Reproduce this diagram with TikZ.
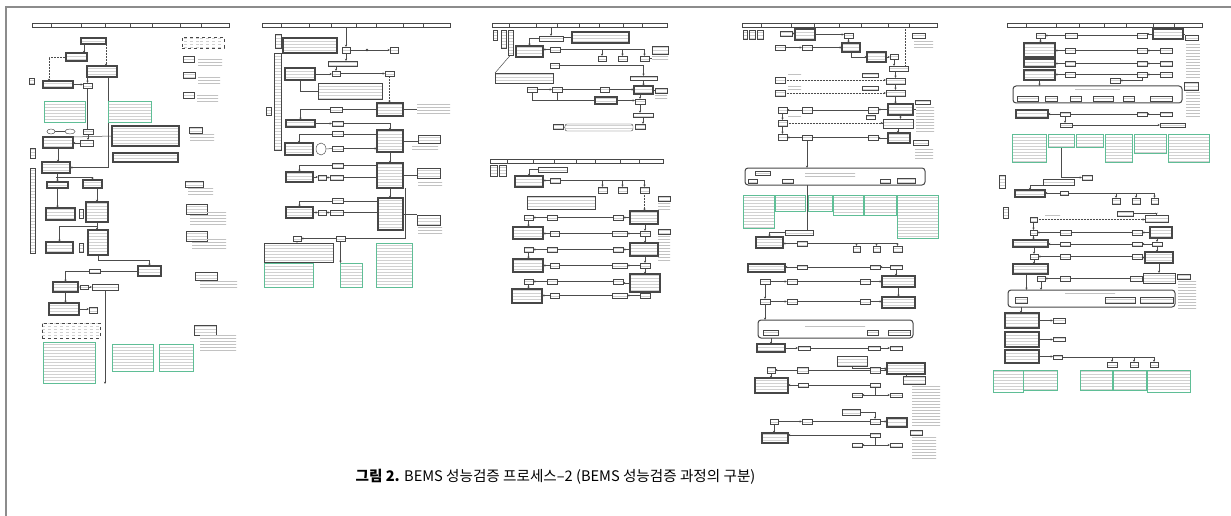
\documentclass[tikz,border=0pt]{standalone}
\usepackage{fontspec}
\newfontfamily\kr{Noto Sans CJK KR}
\usetikzlibrary{arrows.meta,shapes.geometric,patterns,backgrounds,calc}
\definecolor{grn}{RGB}{95,190,150}
\definecolor{frm}{RGB}{140,140,140}
\newcommand{\bx}[6]{\node[#1,minimum width={((#5)-(#3))*1pt},minimum height={((#6)-(#4))*1pt}] (#2) at ({((#3)+(#5))/2},{((#4)+(#6))/2}) {};}
\newcommand{\mkhdr}[4]{\node[base,fill=white,line width=.5pt,minimum width={((#4)-(#2))*1pt},minimum height=4.5pt,anchor=north west] (#1) at (#2,#3) {};
 \foreach \f in {.10,.25,.37,.50,.61,.75,.86} \draw[ln] ($(#1.north west)!\f!(#1.north east)$) -- ($(#1.south west)!\f!(#1.south east)$);}
\newcommand{\rowL}[4]{\draw[ar] (#2.west) -- (#2.west -| #1.east); \draw[ln] (#3.west) -- (#3.west -| #2.east); \draw[ar] (#4.west) -- (#4.west -| #3.east);}
\newcommand{\rowR}[4]{\draw[ar] (#1.east) -- (#1.east -| #2.west); \draw[ln] (#2.east) -- (#2.east -| #3.west); \draw[ar] (#3.east) -- (#3.east -| #4.west);}
\newcommand{\drops}[4]{\draw[ln] (#1.east) -- (#1.east -| #4.north); \foreach \n in {#2,#3,#4} \draw[ar] (\n.north |- #1.east) -- (\n.north);}
\begin{document}
\begin{tikzpicture}[x=1pt,y=-1pt,
 base/.style={inner sep=0pt,outer sep=0pt,draw=black!72,rectangle},
 txt/.style={preaction={fill=white},pattern=horizontal lines,pattern color=black!18},
 sb/.style={base,line width=.45pt,txt},
 tb/.style={base,line width=1.1pt,txt},
 nb/.style={base,line width=.6pt,txt},
 tl/.style={inner sep=0pt,outer sep=0pt,rectangle,pattern=horizontal lines,pattern color=black!24},
 gb/.style={base,draw=grn,line width=1pt,txt},
 rb/.style={base,line width=1pt,rounded corners=3pt,fill=white},
 el/.style={base,ellipse,line width=.45pt,fill=white},
 ln/.style={draw=black!70,line width=.5pt},
 ar/.style={ln,-{Stealth[length=2.4pt,width=2.2pt]}},
 dt/.style={ln,densely dotted,line width=.7pt}
]
\useasboundingbox (0,0) rectangle (1231,516);
\draw[frm,line width=1.8pt] (6,516) -- (6,7) -- (1231,7);

% ================= Panel 1 =================
\mkhdr{h1}{32}{23}{229}
\bx{nb,dashed}{p1leg}{182}{37}{224}{48}
\bx{sb}{p1n1}{183}{56}{194}{62} \bx{tl}{p1m1}{198}{58}{222}{67}
\bx{sb}{p1n2}{183}{72}{195}{78} \bx{tl}{p1m2}{198}{76}{220}{84}
\bx{sb}{p1n3}{183}{92}{194}{98} \bx{tl}{p1m3}{197}{95}{218}{104}
\bx{sb}{p1n4}{189}{127}{202}{133} \bx{tl}{p1m4}{190}{134}{214}{141}
\bx{sb}{p1n5}{185}{181}{203}{187} \bx{tl}{p1m5}{188}{188}{213}{196}
\bx{sb}{p1n6}{186}{204}{207}{214} \bx{tl}{p1m6}{190}{212}{226}{225}
\bx{sb}{p1n7}{186}{231}{207}{241} \bx{tl}{p1m7}{192}{238}{226}{248}
\bx{sb}{p1n8}{195}{272}{217}{280} \bx{tl}{p1m8}{200}{281}{237}{288}
\bx{sb}{p1n9}{194}{325}{216}{335} \bx{tl}{p1m9}{200}{334}{236}{352}

\bx{tb}{p1A}{81}{38}{106}{44}
\bx{tb}{p1B}{66}{53}{87}{61}
\bx{tb}{p1C}{87}{66}{117}{77}
\bx{sb}{p1L}{29}{78}{34}{84}
\bx{tb}{p1D}{43}{81}{73}{88}
\bx{sb}{p1E}{83}{83}{92}{88}
\bx{gb}{p1G1}{44}{102}{85}{123}
\bx{gb}{p1G2}{108}{102}{151}{123}
\bx{el}{p1O1}{47}{129}{55}{134}
\bx{el}{p1O2}{65}{129}{75}{134}
\bx{sb}{p1O3}{83}{129}{93}{134}
\bx{tb}{p1T}{112}{126}{179}{146}
\bx{tb}{p1U}{113}{153}{178}{162}
\bx{tb}{p1F}{43}{137}{73}{148}
\bx{sb}{p1Fs}{80}{140}{93}{146}
\bx{sb}{p1L2}{30}{148}{35}{158}
\bx{sb}{p1Col}{30}{168}{35}{253}
\bx{tb}{p1H}{42}{162}{70}{173}
\bx{tb}{p1I}{47}{182}{68}{188}
\bx{tb}{p1J}{83}{180}{102}{188}
\bx{tb}{p1K}{46}{208}{75}{220}
\bx{sb}{p1Kb}{79}{209}{83}{218}
\bx{tb}{p1Lm}{86}{202}{108}{222}
\bx{tb}{p1M}{46}{242}{73}{253}
\bx{sb}{p1Mb}{79}{243}{83}{252}
\bx{tb}{p1N}{88}{230}{108}{255}
\bx{tb}{p1P}{138}{266}{161}{276}
\bx{sb}{p1Pa}{89}{269}{100}{273}
\bx{tb}{p1Q}{53}{282}{78}{292}
\bx{sb}{p1R}{80}{285}{88}{289}
\bx{sb}{p1S}{92}{284}{118}{290}
\bx{tb}{p1V}{49}{303}{79}{315}
\bx{sb}{p1W}{89}{307}{97}{313}
\bx{nb,dashed}{p1X}{42}{323}{100}{338}
\bx{gb}{p1Y1}{43}{342}{95}{383}
\bx{gb}{p1Y2}{112}{344}{153}{371}
\bx{gb}{p1Y3}{159}{344}{193}{371}
\coordinate (p1end) at (105,384);

% ================= Panel 2 =================
\mkhdr{h2}{262}{23}{450}
\bx{sb}{p2L1}{275}{34}{281}{48}
\bx{sb}{p2Col}{274}{53}{281}{150}
\bx{sb}{p2Br}{266}{107}{271}{115}
\bx{tb}{p2A}{283}{38}{337}{53}
\bx{sb}{p2B}{342}{47}{350}{53}
\bx{sb}{p2D}{390}{47}{398}{53}
\coordinate (p2dot) at (367,50);
\coordinate (p2top) at (346,27.5);
\bx{sb}{p2C}{328}{61}{357}{66}
\bx{tb}{p2E}{285}{68}{315}{80}
\bx{sb}{p2F}{332}{71}{340}{76}
\bx{sb}{p2G}{385}{71}{394}{76}
\bx{nb}{p2T}{318}{83}{382}{99}
\bx{tb}{p2H}{377}{103}{403}{116}
\bx{tl}{p2Ht}{417}{102}{450}{115}
\bx{sb}{p2I}{330}{107}{342}{112}
\bx{tb}{p2J}{286}{120}{315}{127}
\bx{sb}{p2K}{332}{121}{343}{126}
\bx{tb}{p2Lb}{377}{130}{403}{152}
\bx{sb}{p2O}{332}{131.5}{343}{136.5}
\bx{tb}{p2M}{285}{143}{313}{155}
\bx{el}{p2Mc}{316}{143}{326}{155}
\bx{sb}{p2N}{332}{146}{343}{151}
\bx{sb}{p2Nt}{418}{135}{440}{143} \bx{tl}{p2Ntt}{412}{144}{438}{151}
\bx{tb}{p2P}{377}{163}{403}{188}
\bx{sb}{p2Pa}{332}{163}{343}{168}
\bx{tb}{p2Q}{286}{172}{313}{182}
\bx{sb}{p2Qa}{318}{175}{326}{180}
\bx{sb}{p2Qb}{330}{175}{343}{180}
\bx{sb}{p2Pt}{417}{168}{440}{178} \bx{tl}{p2Ptt}{418}{180}{442}{187}
\bx{tb}{p2Rr}{378}{198}{403}{230}
\bx{sb}{p2Ra}{332}{198}{343}{203}
\bx{tb}{p2S}{286}{207}{313}{218}
\bx{sb}{p2Sa}{318}{210}{326}{215}
\bx{sb}{p2Sb}{330}{210}{343}{215}
\bx{sb}{p2Rt}{417}{215}{440}{225} \bx{tl}{p2Rtt}{418}{226}{442}{233}
\bx{sb}{p2U1}{293}{236}{301}{241}
\bx{sb}{p2U2}{336}{236}{345}{241}
\bx{nb}{p2V}{264}{243}{333}{262}
\bx{gb}{p2G1}{264}{263}{313}{287}
\bx{gb}{p2G2}{340}{263}{362}{287}
\bx{gb}{p2G3}{376}{243}{412}{287}

% ================= Panel 3 (top) =================
\mkhdr{h3}{492}{23}{667}
\bx{sb}{p3a1}{493}{30}{497}{40}
\bx{sb}{p3a2}{501}{30}{506}{48}
\bx{sb}{p3a3}{508}{30}{513}{55}
\bx{sb}{p3B}{539}{36}{563}{41}
\bx{tb}{p3T}{572}{32}{629}{43}
\bx{tb}{p3C}{516}{46}{543}{57}
\bx{sb}{p3D}{550}{47}{560}{52}
\bx{sb}{p3E1}{598}{56}{606}{61}
\bx{sb}{p3E2}{618}{56}{627}{61}
\bx{sb}{p3E3}{640}{56}{649}{61}
\bx{sb}{p3F}{652}{46}{668}{54} \bx{tl}{p3Ft}{652}{56}{668}{62}
\bx{sb}{p3G}{550}{63}{559}{68}
\bx{nb}{p3H}{495}{73}{553}{83}
\bx{sb}{p3I}{630}{76}{657}{80}
\bx{sb}{p3J1}{527}{87}{537}{92}
\bx{sb}{p3J2}{552}{87}{562}{92}
\bx{sb}{p3J3}{600}{87}{609}{92}
\bx{tb}{p3K}{634}{86}{653}{94}
\bx{sb}{p3Kt}{655}{88}{667}{93} \bx{tl}{p3Ktt}{655}{94}{667}{99}
\bx{tb}{p3L}{595}{97}{617}{104}
\bx{sb}{p3M}{635}{99}{645}{104}
\bx{sb}{p3N}{633}{113}{653}{117}
\bx{sb}{p3P1}{553}{124}{563}{129}
\bx{sb,rounded corners=2pt}{p3P2}{565}{124}{633}{131}
\bx{sb}{p3P3}{635}{124}{645}{129}

% ================= Panel 3 (bottom) =================
\mkhdr{h4}{490}{159}{663}
\bx{sb}{p4a1}{490}{165}{497}{176}
\bx{sb}{p4a2}{499}{165}{506}{176}
\bx{sb}{p4B}{538}{167}{567}{172}
\bx{tb}{p4C}{515}{176}{543}{187}
\bx{sb}{p4D}{550}{178}{560}{183}
\bx{sb}{p4E1}{598}{187}{607}{193}
\bx{sb}{p4E2}{618}{187}{627}{193}
\bx{sb}{p4E3}{640}{187}{649}{193}
\bx{nb}{p4T}{527}{196}{595}{209}
\bx{sb}{p4n1}{658}{196}{670}{201} \bx{tl}{p4m1}{658}{202}{670}{210}
\bx{sb}{p4n2}{658}{229}{670}{234} \bx{tl}{p4m2}{658}{235}{670}{262}
\bx{sb}{p4r1a}{524}{215}{533}{220} \bx{sb}{p4r1b}{547}{215}{557}{220} \bx{sb}{p4r1c}{613}{215}{623}{220} \bx{tb}{p4r1d}{630}{211}{658}{224}
\bx{tb}{p4r2a}{513}{227}{543}{239} \bx{sb}{p4r2b}{550}{231}{559}{236} \bx{sb}{p4r2c}{612}{231}{627}{236} \bx{sb}{p4r2d}{640}{231}{650}{236}
\bx{sb}{p4r3a}{524}{247}{533}{252} \bx{sb}{p4r3b}{547}{247}{557}{252} \bx{sb}{p4r3c}{613}{247}{623}{252} \bx{tb}{p4r3d}{630}{243}{658}{256}
\bx{tb}{p4r4a}{513}{259}{543}{272} \bx{sb}{p4r4b}{550}{263}{559}{268} \bx{sb}{p4r4c}{612}{263}{627}{268} \bx{sb}{p4r4d}{640}{263}{650}{268}
\bx{sb}{p4r5a}{524}{279}{533}{284} \bx{sb}{p4r5b}{547}{279}{557}{284} \bx{sb}{p4r5c}{613}{279}{623}{284} \bx{tb}{p4r5d}{630}{274}{660}{292}
\bx{tb}{p4r6a}{512}{289}{542}{303} \bx{sb}{p4r6b}{550}{293}{559}{298} \bx{sb}{p4r6c}{612}{293}{627}{298} \bx{sb}{p4r6d}{640}{293}{650}{298}

% ================= Panel 4 =================
\mkhdr{h5}{742}{23}{937}
\bx{sb}{p5a1}{743}{30}{747}{39} \bx{sb}{p5a2}{749}{30}{755}{39} \bx{sb}{p5a3}{757}{30}{763}{39}
\bx{sb}{p5B}{780}{31}{792}{36}
\bx{tb}{p5C}{795}{29}{815}{40}
\bx{sb}{p5D}{844}{33}{853}{38}
\bx{sb}{p5E1}{775}{45}{785}{50} \bx{sb}{p5E2}{802}{45}{812}{50}
\bx{tb}{p5F}{842}{43}{860}{52}
\bx{tb}{p5G}{867}{52}{886}{62}
\bx{sb}{p5H}{890}{54}{898}{59}
\bx{sb}{p5Rn}{912}{33}{925}{38} \bx{tl}{p5Rt}{914}{39}{933}{50}
\coordinate (p5dv) at (905,27.5);
\bx{sb}{p5I}{889}{66}{908}{71}
\bx{tl}{p5j0}{788}{73}{801}{77} \bx{sb}{p5J3}{862}{73}{878}{77}
\bx{sb}{p5J1}{775}{77}{785}{83} \bx{sb}{p5J2}{886}{78}{905}{84}
\bx{tl}{p5k0}{788}{86}{801}{90} \bx{sb}{p5K3}{862}{86}{878}{90}
\bx{sb}{p5K1}{775}{90}{785}{96} \bx{sb}{p5K2}{886}{90}{905}{96}
\bx{sb}{p5L1}{778}{107}{787}{113} \bx{sb}{p5L2}{802}{107}{812}{113} \bx{sb}{p5L3}{868}{107}{878}{113} \bx{tb}{p5L4}{888}{104}{913}{115}
\bx{sb}{p5Ln}{915}{100}{930}{104} \bx{tl}{p5Lt}{916}{106}{934}{132}
\bx{tl}{p5m0}{788}{116}{801}{119} \bx{sb}{p5M3}{866}{115}{875}{119}
\bx{sb}{p5M1}{778}{120}{787}{126} \bx{sb}{p5M2}{883}{119}{913}{128}
\bx{sb}{p5N1}{778}{134}{787}{140} \bx{sb}{p5N2}{802}{135}{812}{140} \bx{sb}{p5N3}{868}{135}{878}{140} \bx{tb}{p5N4}{888}{133}{910}{143}
\bx{sb}{p5Nn}{913}{140}{928}{145} \bx{tl}{p5Nt}{915}{147}{933}{160}
\bx{rb}{p5BR}{745}{168}{925}{185}
\bx{tl}{p5BRt}{805}{173}{855}{177}
\bx{sb}{p5br1}{755}{171}{770}{175} \bx{sb}{p5br2}{748}{179}{757}{183} \bx{sb}{p5br3}{782}{179}{793}{183} \bx{sb}{p5br4}{880}{179}{890}{183} \bx{sb}{p5br5}{897}{178}{915}{183}
\bx{gb}{p5g1}{743}{195}{774}{228} \bx{gb}{p5g2}{775}{195}{805}{211} \bx{gb}{p5g3}{808}{195}{832}{211}
\bx{gb}{p5g4}{833}{195}{863}{215} \bx{gb}{p5g5}{864}{195}{896}{215} \bx{gb}{p5g6}{897}{195}{938}{238}
\bx{sb}{p5P}{785}{230}{813}{235}
\bx{tb}{p5Q}{756}{237}{783}{248}
\bx{sb}{p5R}{797}{241}{807}{246}
\bx{sb}{p5S1}{853}{246}{860}{252} \bx{sb}{p5S2}{873}{246}{880}{252} \bx{sb}{p5S3}{893}{246}{902}{252}
\bx{tb}{p5T}{748}{264}{785}{272} \bx{sb}{p5T2}{797}{265}{807}{269} \bx{sb}{p5T3}{870}{265}{880}{269} \bx{sb}{p5T4}{890}{265}{902}{269}
\bx{sb}{p5U1}{760}{279}{770}{284} \bx{sb}{p5U2}{787}{279}{797}{284} \bx{sb}{p5U3}{860}{279}{870}{284} \bx{tb}{p5U4}{882}{276}{915}{287}
\bx{sb}{p5V1}{760}{299}{770}{304} \bx{sb}{p5V2}{787}{299}{797}{304} \bx{sb}{p5V3}{860}{299}{870}{304} \bx{tb}{p5V4}{882}{297}{915}{308}
\bx{rb}{p5BR2}{758}{320}{913}{338}
\bx{tl}{p5BR2t}{805}{324}{865}{327}
\bx{sb}{p5bq1}{763}{330}{778}{335} \bx{sb}{p5bq2}{867}{330}{878}{335} \bx{sb}{p5bq3}{888}{330}{910}{335}
\bx{tb}{p5W}{757}{344}{785}{352} \bx{sb}{p5W2}{798}{346}{810}{350} \bx{sb}{p5W3}{868}{346}{880}{350} \bx{sb}{p5W4}{890}{346}{902}{350}
\bx{nb}{p5X}{837}{356}{867}{366} \bx{tb}{p5X2}{887}{363}{925}{374}
\bx{sb}{p5Y1}{767}{367}{775}{373} \bx{sb}{p5Y2}{797}{367}{808}{373} \bx{sb}{p5Y3}{870}{367}{880}{373}
\bx{tb}{p5Z}{755}{378}{788}{393} \bx{sb}{p5Z2}{798}{383}{808}{387} \bx{sb}{p5Z3}{870}{383}{880}{387} \bx{sb}{p5Z4}{852}{393}{862}{397} \bx{sb}{p5Z5}{890}{393}{902}{397}
\bx{sb}{p5Xn1}{903}{376}{925}{384} \bx{tl}{p5Xm1}{912}{386}{940}{425}
\bx{sb}{p5Xn2}{910}{430}{922}{435} \bx{tl}{p5Xm2}{912}{437}{936}{458}
\bx{sb}{p5Xt}{842}{409}{860}{415}
\bx{sb}{p5AA1}{770}{419}{778}{424} \bx{sb}{p5AA2}{802}{419}{812}{424} \bx{sb}{p5AA3}{870}{419}{880}{424} \bx{tb}{p5AA4}{887}{418}{907}{427}
\bx{tb}{p5AB}{762}{433}{788}{443} \bx{sb}{p5AB3}{870}{433}{880}{437} \bx{sb}{p5AB4}{852}{443}{862}{447} \bx{sb}{p5AB5}{890}{443}{902}{447}

% ================= Panel 5 =================
\mkhdr{h6}{1007}{23}{1202}
\bx{sb}{q1a}{1036}{33}{1045}{38} \bx{sb}{q1b}{1065}{33}{1077}{38} \bx{sb}{q1c}{1137}{33}{1147}{38} \bx{tb}{q1d}{1153}{29}{1183}{39}
\bx{sb}{q1n}{1185}{35}{1198}{40} \bx{tl}{q1t}{1186}{42}{1200}{80}
\bx{tb}{q2a}{1024}{43}{1055}{57} \bx{sb}{q2b}{1065}{48}{1075}{53} \bx{sb}{q2c}{1137}{48}{1147}{53} \bx{sb}{q2d}{1160}{48}{1172}{53}
\bx{tb}{q3a}{1024}{59}{1055}{67} \bx{sb}{q3b}{1065}{61}{1075}{66} \bx{sb}{q3c}{1137}{61}{1147}{66} \bx{sb}{q3d}{1160}{61}{1172}{66}
\bx{tb}{q4a}{1024}{70}{1055}{80} \bx{sb}{q4b}{1065}{72}{1075}{77} \bx{sb}{q4c}{1137}{72}{1147}{77} \bx{sb}{q4d}{1160}{72}{1172}{77}
\bx{sb}{q4e}{1110}{78}{1120}{83}
\bx{rb}{q5}{1013}{86}{1182}{103}
\bx{tl}{q5t}{1075}{88}{1120}{92}
\bx{sb}{q5i1}{1017}{96}{1038}{101} \bx{sb}{q5i2}{1045}{96}{1057}{101} \bx{sb}{q5i3}{1070}{96}{1081}{101} \bx{sb}{q5i4}{1093}{96}{1113}{101} \bx{sb}{q5i5}{1123}{96}{1134}{101} \bx{sb}{q5i6}{1150}{96}{1172}{101}
\bx{sb}{q5n}{1184}{82}{1198}{90} \bx{tl}{q5m}{1186}{92}{1200}{117}
\bx{tb}{q6a}{1016}{110}{1048}{118} \bx{sb}{q6b}{1060}{112}{1070}{116} \bx{sb}{q6c}{1137}{112}{1147}{116} \bx{sb}{q6d}{1160}{112}{1172}{116}
\bx{sb}{q7a}{1060}{123}{1072}{127} \bx{sb}{q7b}{1160}{123}{1185}{127}
\bx{gb}{qg1}{1012}{135}{1046}{162} \bx{gb}{qg2}{1048}{135}{1074}{147} \bx{gb}{qg3}{1076}{135}{1103}{147}
\bx{gb}{qg4}{1105}{135}{1132}{162} \bx{gb}{qg5}{1134}{135}{1166}{153} \bx{gb}{qg6}{1168}{135}{1209}{162}
\bx{sb}{q8}{1082}{175}{1092}{180}
\bx{sb}{q8l}{999}{175}{1005}{188} \bx{sb}{q8m}{1043}{179}{1074}{185}
\bx{tb}{q9}{1015}{190}{1045}{197} \bx{sb}{q9b}{1060}{191}{1068}{195}
\bx{sb}{q9c1}{1112}{198}{1120}{204} \bx{sb}{q9c2}{1132}{198}{1140}{204} \bx{sb}{q9c3}{1151}{198}{1158}{204}
\bx{sb}{q9l}{1003}{207}{1008}{218}
\bx{sb}{q10a}{1030}{217}{1037}{222} \bx{sb}{q10lab}{1117}{211}{1133}{216} \bx{sb}{q10b}{1145}{215}{1168}{222}
\bx{tl}{q10t}{1045}{213}{1060}{216}
\bx{sb}{q11a}{1030}{230}{1037}{235} \bx{sb}{q11b}{1060}{230}{1071}{235} \bx{sb}{q11c}{1132}{230}{1142}{235} \bx{tb}{q11d}{1150}{227}{1172}{238}
\bx{tb}{q12a}{1013}{240}{1048}{247} \bx{sb}{q12b}{1060}{242}{1070}{246} \bx{sb}{q12c}{1132}{242}{1142}{246} \bx{sb}{q12d}{1152}{242}{1162}{246}
\bx{sb}{q13a}{1030}{254}{1038}{259} \bx{sb}{q13b}{1060}{254}{1070}{259} \bx{sb}{q13c}{1132}{254}{1142}{259} \bx{tb}{q13d}{1145}{252}{1173}{263}
\bx{tb}{q14}{1013}{264}{1048}{274}
\bx{sb}{q15a}{1037}{276}{1045}{281} \bx{sb}{q15b}{1060}{276}{1070}{281} \bx{sb}{q15c}{1130}{276}{1142}{281} \bx{sb}{q15d}{1143}{273}{1175}{283}
\bx{sb}{q15n}{1177}{274}{1190}{279} \bx{tl}{q15m}{1178}{281}{1196}{308}
\bx{rb}{q16}{1008}{290}{1175}{307}
\bx{tl}{q16t}{1065}{292}{1115}{295}
\bx{sb}{q16i1}{1015}{297}{1027}{303} \bx{sb}{q16i2}{1105}{297}{1135}{303} \bx{sb}{q16i3}{1140}{297}{1173}{303}
\bx{tb}{q17}{1005}{313}{1039}{328} \bx{sb}{q17b}{1053}{318}{1065}{323}
\bx{tb}{q18}{1005}{332}{1039}{347} \bx{sb}{q18b}{1053}{337}{1065}{341}
\bx{tb}{q19}{1005}{350}{1039}{363} \bx{sb}{q19b}{1053}{355}{1062}{359}
\bx{sb}{q19c1}{1107}{362}{1117}{367} \bx{sb}{q19c2}{1130}{362}{1138}{367} \bx{sb}{q19c3}{1150}{362}{1158}{367}
\bx{gb}{qh1}{993}{370}{1023}{392} \bx{gb}{qh2}{1023}{370}{1057}{390}
\bx{gb}{qh3}{1080}{370}{1112}{390} \bx{gb}{qh4}{1113}{370}{1146}{390} \bx{gb}{qh5}{1147}{370}{1190}{392}

% caption
\node[inner sep=0pt,font=\kr\fontsize{14.6}{17}\selectfont] (cap) at (555.5,477) {\textbf{그림 2.} BEMS 성능검증 프로세스–2 (BEMS 성능검증 과정의 구분)};

% ================= connectors =================
\begin{scope}[on background layer]
% panel 1
\draw[ar] ([xshift=-3pt]p1B.north east |- p1A.south) -- ([xshift=-3pt]p1B.north east);
\draw[dt,-{Stealth[length=2.4pt,width=2.2pt]}] (p1A.south east) -- (p1A.south east |- p1C.north);
\draw[dt,-{Stealth[length=2.4pt,width=2.2pt]}] (p1B.west) -| ([xshift=-9pt]p1D.north);
\draw[ar] (p1D.east) -- (p1D.east -| p1E.west);
\draw[ar] (p1C.south -| p1E.north) -- (p1E.north);
\draw[ln] (p1E.south) -- (p1E.south |- p1O3.north);
\draw[ar] (p1C.south -| p1G2.west) |- (p1H.east);
\draw[ar] (p1O3.south) -- (p1O3.south |- p1Fs.north);
\draw[ar] (p1Fs.west) -- (p1Fs.west -| p1F.east);
\draw[ln] (p1T.west) -- (p1F.north east);
\draw[ln] (p1O1.east) -- (p1O2.west);
\draw[ar] (p1F.south) -- (p1F.south |- p1H.north);
\draw[ar] (p1I.north |- p1H.south) -- (p1I.north);
\draw[ar] ($(p1H.south)+(0,4)$) -| (p1J.north);
\draw[ar] (p1I.south) -- (p1I.south |- p1K.north);
\draw[ar] (p1J.south -| p1Lm.north) -- (p1Lm.north);
\draw[ar] (p1Lm.south) -- ++(0,4) -| (p1M.north);
\draw[ar] (p1Lm.south) -- (p1Lm.south |- p1N.north);
\draw[ar] (p1N.south) -- ++(0,5) -| (p1P.north);
\draw[ar] (p1P.west) -| (p1Q.north);
\draw[ar] (p1Q.east) -- (p1Q.east -| p1R.west);
\draw[ar] (p1R.east) -- (p1R.east -| p1S.west);
\draw[ar] (p1S.south) -- (p1S.south |- p1end);
\draw[ar] (p1Q.south) -- (p1Q.south |- p1V.north);
\draw[ar] (p1V.east) -- (p1V.east -| p1W.west);
% panel 2
\draw[ar] (p2top) -- (p2B.north);
\draw[ar] (p2B.south) -- (p2B.south |- p2C.north);
\draw[ar] (p2F.north |- p2C.south) -- (p2F.north);
\draw[ln] (p2B.east) -- (p2B.east -| p2dot);
\draw[ar] (p2dot) -- (p2dot -| p2D.west);
\fill[black!75] (p2dot) circle (1.4pt);
\draw[ar] (p2E.east) -- (p2E.east -| p2F.west);
\draw[ar] (p2F.east) -- (p2F.east -| p2G.west);
\draw[dt,-{Stealth[length=2.4pt,width=2.2pt]}] (p2G.south) -- (p2G.south |- p2H.north);
\draw[ln] (p2T.west) -| (p2E.south);
\fill[black!75] (p2E.south) circle (1.2pt);
\draw[ln] (p2H.east) -- (p2H.east -| p2Ht.west);
\draw[ar] (p2H.west) -| (p2J.north);
\draw[ar] (p2J.east) -- (p2J.east -| p2K.west);
\draw[ar] (p2K.east) -| (p2Lb.north);
\draw[ar] ([yshift=7pt]p2Lb.west) -| (p2M.north);
\draw[ln] (p2Mc.east) -- (p2N.west);
\draw[ar] (p2N.east) -- (p2N.east -| p2Lb.west);
\draw[ln] (p2Lb.east) -- (p2Lb.east -| p2Nt.west);
\draw[ar] (p2Lb.south) -- (p2Lb.south |- p2P.north);
\draw[ar] ([yshift=10pt]p2P.west) -| (p2Q.north);
\draw[ar] (p2Q.east) -- (p2Q.east -| p2Qa.west);
\draw[ar] (p2Qa.east) -- (p2Qa.east -| p2Qb.west);
\draw[ln] (p2Qb.east) -- (p2Qb.east -| p2P.west);
\draw[ln] (p2P.east) -- (p2P.east -| p2Pt.west);
\draw[ar] (p2P.south) -- (p2P.south |- p2Rr.north);
\draw[ar] ([yshift=13pt]p2Rr.west) -| (p2S.north);
\draw[ar] (p2S.east) -- (p2S.east -| p2Sa.west);
\draw[ar] (p2Sa.east) -- (p2Sa.east -| p2Sb.west);
\draw[ln] (p2Sb.east) -- (p2Sb.east -| p2Rr.west);
\draw[ln] (p2Rr.east) -- (p2Rr.east -| p2Rt.west);
\draw[ln] ([xshift=2pt]p2P.south east) |- (p2U2.east);
\draw[ar] (p2U2.west) -- (p2U2.west -| p2U1.east);
\draw[ar] (p2U1.south) -- (p2U1.south |- p2V.north);
\draw[ar] (p2U2.south) -- (p2U2.south |- p2G2.north);
% panel 3 top
\draw[ar] (p3B.north |- h3.south) -- (p3B.north);
\draw[ar] (p3B.west) -| (p3C.north);
\draw[ln] (p3a3.south) -- (p3H.north west);
\draw[ln] (p3T.west) -- (p3T.west -| p3B.east);
\draw[ar] (p3D.west) -- (p3D.west -| p3C.east);
\drops{p3D}{p3E1}{p3E2}{p3E3}
\draw[ln] (p3E3.east) -- (p3E3.east -| p3F.west);
\draw[ar] (p3G.east) -| (p3I.north);
\draw[ar] (p3I.south) -- (p3I.south |- p3K.north);
\rowR{p3J1}{p3J2}{p3J3}{p3K}
\draw[ln] (p3K.east) -- (p3K.east -| p3Kt.west);
\draw[ln] (p3J1.south) |- (p3L.west);
\draw[ln] (p3J2.south) -- (p3J2.south |- p3L.west);
\draw[ar] (p3L.east) -- (p3L.east -| p3M.west);
\draw[ar] (p3K.south -| p3M.north) -- (p3M.north);
\draw[ar] (p3M.south) -- (p3M.south |- p3N.north);
\draw[ar] (p3N.south) -- (p3N.south |- p3P3.north);
\draw[ln] (p3P1.east) -- (p3P2.west);
% panel 3 bottom
\draw[ar] (p4B.west) -| (p4C.north);
\draw[ar] (p4D.west) -- (p4D.west -| p4C.east);
\drops{p4D}{p4E1}{p4E2}{p4E3}
\draw[dt,-{Stealth[length=2.4pt,width=2.2pt]}] (p4E3.south) -- (p4E3.south |- p4r1d.north);
\rowL{p4r1a}{p4r1b}{p4r1c}{p4r1d}
\rowL{p4r2a}{p4r2b}{p4r2c}{p4r2d}
\rowL{p4r3a}{p4r3b}{p4r3c}{p4r3d}
\rowL{p4r4a}{p4r4b}{p4r4c}{p4r4d}
\rowL{p4r5a}{p4r5b}{p4r5c}{p4r5d}
\rowL{p4r6a}{p4r6b}{p4r6c}{p4r6d}
\draw[ar] (p4r1a.south) -- (p4r1a.south |- p4r2a.north);
\draw[ar] (p4r3a.south) -- (p4r3a.south |- p4r4a.north);
\draw[ar] (p4r5a.south) -- (p4r5a.south |- p4r6a.north);
\draw[ar] (p4r2d.north |- p4r1d.south) -- (p4r2d.north);
\draw[ar] (p4r2d.south) -- (p4r2d.south |- p4r3d.north);
\draw[ar] (p4r4d.north |- p4r3d.south) -- (p4r4d.north);
\draw[ar] (p4r4d.south) -- (p4r4d.south |- p4r5d.north);
\draw[ar] (p4r6d.north |- p4r5d.south) -- (p4r6d.north);
\draw[ln] (p4r1d.east) -- (p4r1d.east -| p4n1.west);
% panel 4
\draw[ar] (p5B.east) -- (p5B.east -| p5C.west);
\draw[ar] (p5C.east) -- (p5C.east -| p5D.west);
\draw[ar] (p5D.south) -- (p5D.south |- p5F.north);
\draw[ar] (p5E1.east) -- (p5E1.east -| p5E2.west);
\draw[ar] (p5E2.east) -- (p5E2.east -| p5F.west);
\draw[ar] (p5F.south) |- (p5G.west);
\draw[ar] (p5G.east) -- (p5G.east -| p5H.west);
\draw[dt] (p5dv) -- (p5dv |- p5I.north);
\draw[ar] (p5H.south) -- (p5H.south |- p5I.north);
\draw[ar] (p5J2.north |- p5I.south) -- (p5J2.north);
\draw[dt,-{Stealth[length=2.4pt,width=2.2pt]}] (p5J1.east) -- (p5J1.east -| p5J2.west);
\draw[dt,-{Stealth[length=2.4pt,width=2.2pt]}] (p5K1.east) -- (p5K1.east -| p5K2.west);
\draw[ar] (p5J2.south) -- (p5J2.south |- p5K2.north);
\draw[ar] (p5K2.south) -- (p5K2.south |- p5L4.north);
\rowL{p5L1}{p5L2}{p5L3}{p5L4}
\draw[ar] (p5L1.south) -- (p5L1.south |- p5M1.north);
\draw[dt,-{Stealth[length=2.4pt,width=2.2pt]}] (p5M1.east) -- (p5M1.east -| p5M2.west);
\draw[ar] (p5M1.south) -- (p5M1.south |- p5N1.north);
\draw[ar] (p5L4.south) -- (p5L4.south |- p5M2.north);
\draw[ar] (p5M2.south) -- (p5M2.south |- p5N4.north);
\rowL{p5N1}{p5N2}{p5N3}{p5N4}
\draw[ln] (p5L4.east) -- (p5L4.east -| p5Lt.west);
\draw[ar] (p5N2.south) -- (p5N2.south |- p5BR.north);
\draw[ln] (p5N2.south |- p5BR.south) -- (p5N2.south |- p5P.north);
\draw[ar] (p5P.west) -| (p5Q.north);
\draw[ar] (p5R.west) -- (p5R.west -| p5Q.east);
\drops{p5R}{p5S1}{p5S2}{p5S3}
\rowL{p5T}{p5T2}{p5T3}{p5T4}
\draw[ar] (p5T4.south) -- (p5T4.south |- p5U4.north);
\rowR{p5U1}{p5U2}{p5U3}{p5U4}
\draw[ar] (p5U4.south) -- (p5U4.south |- p5V4.north);
\draw[ar] (p5U1.south) -- (p5U1.south |- p5V1.north);
\rowR{p5V1}{p5V2}{p5V3}{p5V4}
\draw[ar] (p5V1.south) -- (p5V1.south |- p5BR2.north);
\draw[ar] (p5W.north |- p5BR2.south) -- (p5W.north);
\rowR{p5W}{p5W2}{p5W3}{p5W4}
\draw[ar] (p5X.south) |- (p5X2.west);
\draw[ar] (p5Y2.west) -- (p5Y2.west -| p5Y1.east);
\draw[ln] (p5Y3.west) -- (p5Y3.west -| p5Y2.east);
\draw[ar] (p5Y3.east) -- (p5Y3.east -| p5X2.west);
\draw[ar] (p5Y1.south) -- (p5Y1.south |- p5Z.north);
\draw[ar] (p5Z2.west) -- (p5Z2.west -| p5Z.east);
\draw[ln] (p5Z3.west) -- (p5Z3.west -| p5Z2.east);
\draw[ar] (p5Z3.south) |- (p5Z4.east);
\draw[ar] (p5Z3.south) |- (p5Z5.west);
\draw[ln] (p5X2.south) |- (p5Xn1.west);
\draw[ar] (p5Xt.east) -| (p5AA3.north);
\rowR{p5AA1}{p5AA2}{p5AA3}{p5AA4}
\draw[ar] (p5AA1.south) -- (p5AA1.south |- p5AB.north);
\draw[ar] (p5AB3.west) -- (p5AB3.west -| p5AB.east);
\draw[ar] (p5AB3.south) |- (p5AB4.east);
\draw[ar] (p5AB3.south) |- (p5AB5.west);
% panel 5
\rowL{q1a}{q1b}{q1c}{q1d}
\draw[ar] (q1a.south) -- (q1a.south |- q2a.north);
\rowL{q2a}{q2b}{q2c}{q2d}
\rowL{q3a}{q3b}{q3c}{q3d}
\rowL{q4a}{q4b}{q4c}{q4d}
\draw[ar] (q4c.south) |- (q4e.east);
\draw[ar] (q4a.south) -- (q4a.south |- q5.north);
\draw[ln] (q1d.east) -- (q1d.east -| q1n.west);
\rowL{q6a}{q6b}{q6c}{q6d}
\draw[ar] (q7a.east) -- (q7a.east -| q7b.west);
\draw[ar] (q6b.south) -- (q6b.south |- q7a.north);
\draw[ar] (qg2.south) |- (q8.west);
\draw[ar] (q8m.south) -| (q9.north);
\draw[ar] (q9b.west) -- (q9b.west -| q9.east);
\drops{q9b}{q9c1}{q9c2}{q9c3}
\draw[dt,-{Stealth[length=2.4pt,width=2.2pt]}] (q10a.east) -- (q10a.east -| q10b.west);
\draw[ar] (q10lab.east) -| (q10b.north);
\draw[ar] (q10a.south) -- (q10a.south |- q11a.north);
\rowL{q11a}{q11b}{q11c}{q11d}
\draw[ar] (q11a.south) -- (q11a.south |- q12a.north);
\rowL{q12a}{q12b}{q12c}{q12d}
\draw[ar] (q12d.north |- q11d.south) -- (q12d.north);
\draw[ar] (q12d.south) -- (q12d.south |- q13d.north);
\draw[ar] (q13a.north |- q12a.south) -- (q13a.north);
\rowL{q13a}{q13b}{q13c}{q13d}
\draw[ar] (q13a.south) -- (q13a.south |- q14.north);
\draw[ar] (q13d.south) -- (q13d.south |- q15d.north);
\rowL{q15a}{q15b}{q15c}{q15d}
\draw[ar] ([xshift=-4pt]q14.south) -- ([xshift=-4pt]q14.south |- q16.north);
\draw[ar] (q15a.south) -- (q15a.south |- q16.north);
\draw[ar] (q16i1.south |- q16.south) -- (q16i1.south |- q17.north);
\draw[ar] (q17.east) -- (q17.east -| q17b.west);
\draw[ar] (q18.east) -- (q18.east -| q18b.west);
\draw[ar] (q19.east) -- (q19.east -| q19b.west);
\drops{q19b}{q19c1}{q19c2}{q19c3}
\end{scope}
\end{tikzpicture}
\end{document}
